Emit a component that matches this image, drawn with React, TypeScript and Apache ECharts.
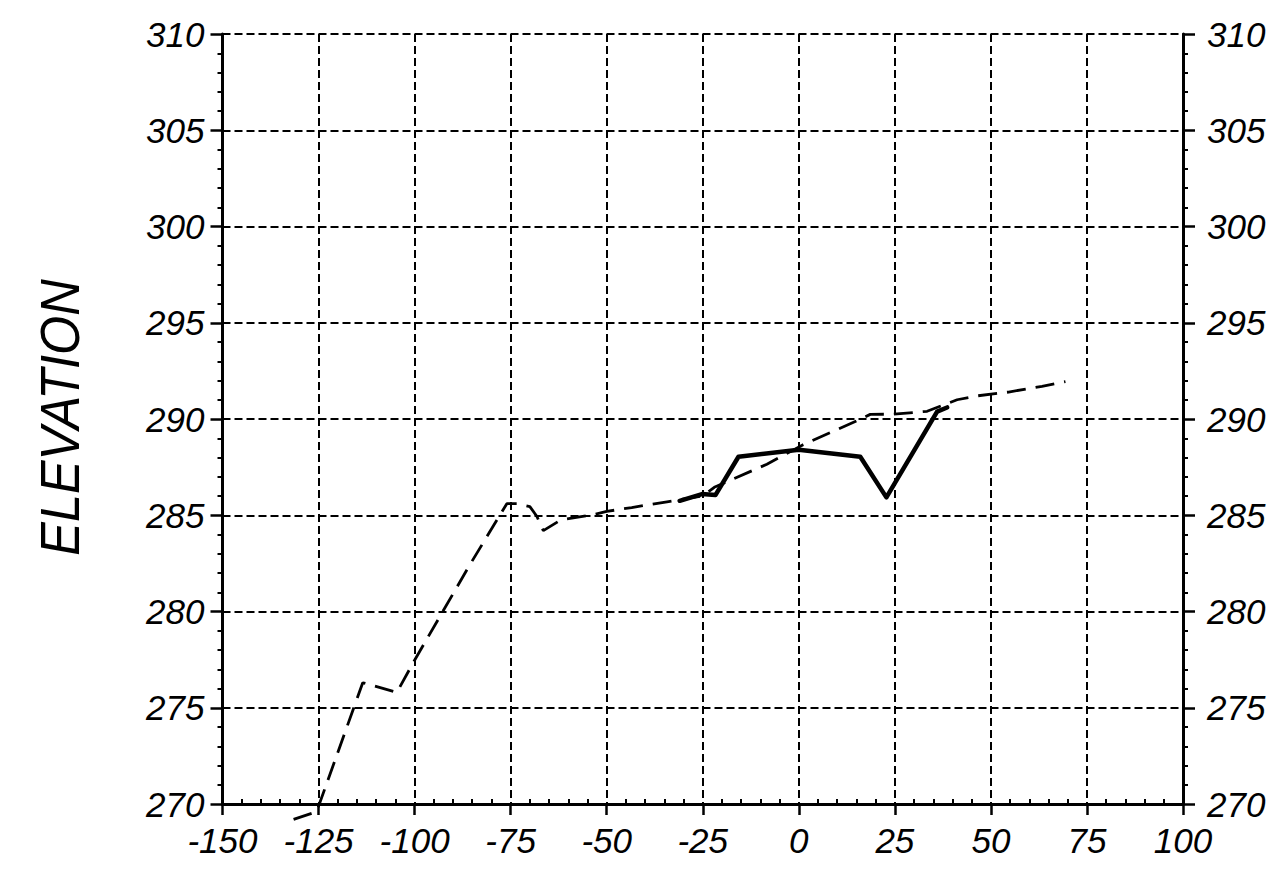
import React, { useEffect, useRef } from "react";
import * as echarts from "echarts";

// Existing ground profile (dashed)
const existingX = [-131.5, -125.5, -113.5, -104.6, -100.2, -86, -76, -73.4, -70, -68.2, -66.5, -62, -53, -50, -43.5, -34.3, -25, -22, -8.3, 1, 15.6, 18.6, 24.7, 33.4, 41.2, 46.4, 54.6, 63.3, 69.4];
const existingY = [269.2, 269.6, 276.3, 275.8, 277.4, 282.3, 285.6, 285.6, 285.45, 284.95, 284.2, 284.75, 285.05, 285.2, 285.4, 285.7, 286.0, 286.45, 287.65, 288.65, 289.95, 290.24, 290.25, 290.4, 291.0, 291.2, 291.4, 291.7, 291.94];

// Proposed profile (solid)
const proposedX = [-31, -25.2, -21.7, -15.7, 0, 16, 22.8, 36, 38.6];
const proposedY = [285.75, 286.1, 286.05, 288.04, 288.4, 288.04, 285.93, 290.38, 290.6];

const xMin = -150;
const xMax = 100;
const xStep = 25;
const yMin = 270;
const yMax = 310;
const yStep = 5;
const yTitle = "ELEVATION";

const FONT = '"Liberation Sans", Arial, sans-serif';

export default function App() {
  const ref = useRef<HTMLDivElement>(null);
  useEffect(() => {
    document.body.style.margin = "0";
    const chart = echarts.init(ref.current!, null, { renderer: "svg" });
    const labelStyle = {
      fontSize: 35,
      fontStyle: "italic",
      fontFamily: FONT,
      color: "#000",
    };
    const dashed = { type: [8, 4], color: "#000", width: 2 };
    chart.setOption({
      animation: false,
      backgroundColor: "#fff",
      grid: { left: 222.5, right: 91, top: 34, bottom: 73 },
      xAxis: [
        {
          type: "value",
          min: xMin,
          max: xMax,
          interval: xStep,
          position: "bottom",
          axisLine: { show: true, onZero: false, lineStyle: { color: "#000", width: 3 } },
          axisTick: { show: true, length: 11, lineStyle: { color: "#000", width: 2.5 } },
          minorTick: { show: false },
          axisLabel: { ...labelStyle, margin: 19 },
          splitLine: { show: true, lineStyle: dashed },
        },
        {
          type: "value",
          min: xMin,
          max: xMax,
          interval: xStep,
          position: "bottom",
          offset: 0,
          axisLine: { show: false, onZero: false },
          axisTick: { show: false, inside: true },
          minorTick: { show: true, splitNumber: 5, length: 5, lineStyle: { color: "#000", width: 2 } },
          axisLabel: { show: false },
          splitLine: { show: false },
        },
      ],
      yAxis: [
        {
          type: "value",
          min: yMin,
          max: yMax,
          interval: yStep,
          position: "left",
          axisLine: { show: true, onZero: false, lineStyle: { color: "#000", width: 3 } },
          axisTick: { show: true, length: 12, lineStyle: { color: "#000", width: 2.5 } },
          minorTick: { show: true, splitNumber: 5, length: 5, lineStyle: { color: "#000", width: 2 } },
          axisLabel: { ...labelStyle, margin: 18 },
          splitLine: { show: true, lineStyle: dashed },
        },
        {
          type: "value",
          min: yMin,
          max: yMax,
          interval: yStep,
          position: "right",
          axisLine: { show: true, onZero: false, lineStyle: { color: "#000", width: 3 } },
          axisTick: { show: true, length: 12, lineStyle: { color: "#000", width: 2.5 } },
          minorTick: { show: true, splitNumber: 5, length: 5, lineStyle: { color: "#000", width: 2 } },
          axisLabel: { ...labelStyle, margin: 24 },
          splitLine: { show: false },
        },
      ],
      graphic: [
        {
          type: "text",
          x: 60,
          y: 417.5,
          rotation: Math.PI / 2,
          scaleX: 0.9,
          style: {
            text: yTitle,
            font: `italic 56px ${FONT}`,
            fill: "#000",
            align: "center",
            verticalAlign: "middle",
          },
        },
      ],
      series: [
        {
          type: "line",
          name: "existing",
          xAxisIndex: 0,
          yAxisIndex: 0,
          data: existingX.map((x, i) => [x, existingY[i]]),
          symbol: "none",
          clip: false,
          z: 3,
          lineStyle: { color: "#000", width: 2.8, type: [19, 10] },
        },
        {
          type: "line",
          name: "proposed",
          xAxisIndex: 0,
          yAxisIndex: 0,
          data: proposedX.map((x, i) => [x, proposedY[i]]),
          symbol: "none",
          clip: false,
          z: 4,
          lineStyle: { color: "#000", width: 4.5, join: "round", cap: "round" },
        },
      ],
    });
    return () => chart.dispose();
  }, []);
  return <div ref={ref} style={{ width: 1274, height: 877 }} />;
}
